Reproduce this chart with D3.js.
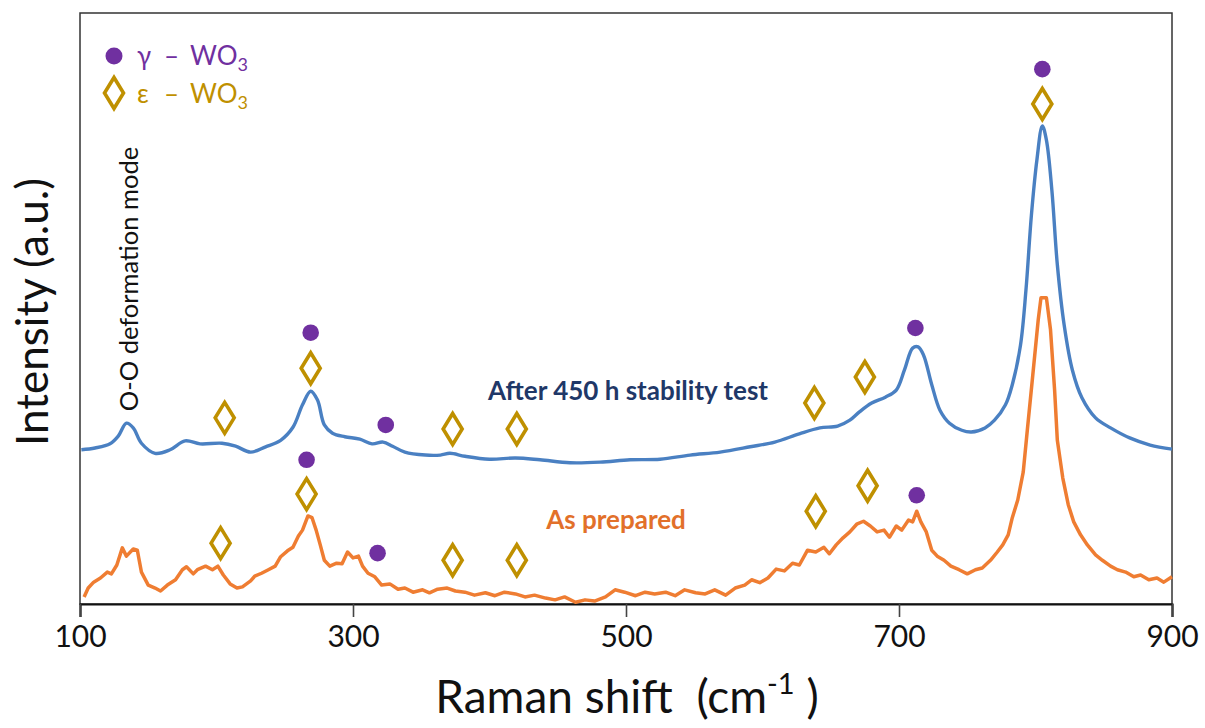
<!DOCTYPE html>
<html>
<head>
<meta charset="utf-8">
<script src="https://cdn.jsdelivr.net/npm/d3@7"></script>
<style>
  html, body { margin: 0; padding: 0; background: #fff; }
  svg { display: block; font-family: Lato, "Open Sans", sans-serif; }
</style>
</head>
<body>
<svg id="chart" width="1205" height="728"></svg>
<script>
// ---------------- data ----------------
const xTicks = [100, 300, 500, 700, 900];

// "After 450 h stability test" spectrum (Raman shift cm-1, intensity a.u.)
const afterShift = [101,111,122,128,134,139,145,155,166,177,188,204,214,225,236,247,256,263,269,274,279,285,294,305,314,322,329,338,353,364,371,382,400,419,437,459,481,503,525,547,569,591,609,627,642,655,664,671,680,690,698,704,710,714,718,724,730,737,746,753,763,770,778,783,789,793,797,801,805,808,812,816,821,827,834,844,855,869,884,900];
const afterIntensity = [26.1,26.4,27.1,28.4,30.6,29.8,27.2,25.5,26.1,27.6,27.1,27.2,26.7,25.7,26.6,27.7,29.9,33.7,36.0,34.5,30.3,28.9,28.3,27.9,27.1,27.4,26.7,25.7,25.2,25.2,25.5,25.0,24.5,24.7,24.4,23.9,24.0,24.4,24.5,25.2,25.7,26.6,27.4,28.8,29.8,30.1,31.1,32.5,34.0,35.0,36.2,39.6,43.3,43.5,42.1,37.1,32.8,30.6,29.4,29.1,29.8,31.1,33.7,37.1,43.8,53.1,65.8,75.1,80.9,78.5,70.0,57.4,47.2,39.6,34.9,31.5,29.8,28.1,26.9,26.2];

// "As prepared" spectrum
const asShift = [103,106,110,115,120,123,127,131,134,139,142,145,150,155,159,164,170,175,178,183,186,192,197,201,205,210,215,219,225,228,233,238,243,247,252,256,260,263,267,270,273,276,279,283,288,292,296,300,304,307,311,316,321,327,333,338,344,351,356,362,369,375,382,389,397,404,411,419,426,433,441,448,455,463,470,477,485,492,499,507,514,521,529,536,543,551,558,565,573,580,587,592,598,604,610,616,622,627,633,639,645,649,654,659,664,669,674,679,684,689,693,698,702,707,710,713,716,720,724,728,733,738,744,750,756,761,767,772,776,780,783,787,791,794,798,802,804,808,811,814,816,820,824,828,833,838,844,849,855,860,866,872,877,883,889,894,900];
const asIntensity = [1.2,2.7,3.7,4.4,5.4,5.1,6.6,9.5,8.1,9.3,9.1,5.4,3.2,2.7,2.2,3.2,4.1,5.8,6.3,5.1,5.8,6.4,5.8,6.4,4.9,3.4,2.7,2.9,3.9,4.7,5.2,5.8,6.4,8.0,9.0,9.6,11.5,12.5,14.9,14.6,12.5,10.0,7.4,6.4,6.9,6.8,8.8,7.8,8.1,6.4,5.2,4.6,3.2,3.4,2.5,2.7,2.0,2.4,1.9,2.5,2.7,2.2,2.0,1.5,1.9,1.4,2.0,1.7,1.2,1.5,1.0,0.7,1.2,0.3,0.7,0.5,1.2,2.4,2.0,1.4,2.0,1.7,2.0,1.4,2.4,1.9,1.7,2.4,1.5,2.7,3.2,4.1,3.6,4.4,5.9,5.6,6.9,6.6,9.1,8.8,9.6,8.5,10.0,11.2,12.2,13.5,14.0,13.2,12.2,12.5,11.3,13.2,12.5,14.2,13.9,15.7,13.9,12.2,9.1,8.1,7.4,6.4,5.8,5.1,5.8,6.1,7.4,8.8,10.0,11.7,14.6,17.6,22.3,29.4,38.7,48.1,51.8,51.8,46.4,36.2,27.7,21.3,16.8,13.9,11.7,10.0,8.3,7.4,6.4,5.8,5.4,4.6,4.9,4.1,4.4,3.7,4.6];

// phase markers: Raman shift and the intensity level where the marker sits
const gammaShift = [269, 324, 712, 805, 266, 318, 713];
const gammaLevel = [45.9, 30.3, 46.7, 90.5, 24.4, 8.6, 18.4];
const epsShift = [206, 269, 373, 420, 638, 675, 805, 203, 266, 373, 420, 639, 677];
const epsLevel = [31.5, 39.9, 29.6, 29.6, 34.0, 38.4, 84.6, 10.3, 18.6, 7.4, 7.4, 15.7, 20.0];

// ---------------- chart ----------------
const plot = { left: 80, right: 1172, top: 13, bottom: 604 };
const svg = d3.select("#chart");

const x = d3.scaleLinear().domain([100, 900]).range([plot.left, plot.right]);
const y = d3.scaleLinear().domain([0, 100]).range([plot.bottom, plot.top]);

const C = {
  blue: "#4a80c2", orange: "#ef7d32", purple: "#7030a0", gold: "#bf9000",
  navy: "#1f3868", orangeText: "#e2702a"
};

// frame
svg.append("rect")
  .attr("x", plot.left).attr("y", plot.top)
  .attr("width", plot.right - plot.left).attr("height", plot.bottom - plot.top)
  .attr("fill", "none").attr("stroke", "#333").attr("stroke-width", 1.5);

// x axis
const xAxis = svg.append("g")
  .attr("transform", `translate(0,${plot.bottom})`)
  .call(d3.axisBottom(x).tickValues(xTicks).tickSize(13).tickPadding(9).tickFormat(d3.format("d")));
xAxis.select(".domain").attr("stroke", "#111").attr("stroke-width", 2.2);
xAxis.selectAll(".tick line").attr("stroke", "#444").attr("stroke-width", 1.6);
xAxis.selectAll(".tick text")
  .attr("font-family", "Lato, sans-serif").attr("font-size", 30).attr("fill", "#111");

// spectra
const lineSmooth = d3.line().x(d => x(d[0])).y(d => y(d[1])).curve(d3.curveCatmullRom.alpha(0.5));
const lineRaw = d3.line().x(d => x(d[0])).y(d => y(d[1]));

svg.append("path")
  .datum(afterShift.map((s, i) => [s, afterIntensity[i]]))
  .attr("d", lineSmooth).attr("fill", "none")
  .attr("stroke", C.blue).attr("stroke-width", 3.4).attr("stroke-linejoin", "round");

svg.append("path")
  .datum(asShift.map((s, i) => [s, asIntensity[i]]))
  .attr("d", lineRaw).attr("fill", "none")
  .attr("stroke", C.orange).attr("stroke-width", 3.5).attr("stroke-linejoin", "round");

// markers
const diamondPath = (w, h) => `M0,${-h/2}L${w/2},0L0,${h/2}L${-w/2},0Z`;

svg.append("g").selectAll("circle")
  .data(gammaShift.map((s, i) => [s, gammaLevel[i]]))
  .join("circle")
  .attr("cx", d => x(d[0])).attr("cy", d => y(d[1])).attr("r", 8.3)
  .attr("fill", C.purple);

svg.append("g").selectAll("path")
  .data(epsShift.map((s, i) => [s, epsLevel[i]]))
  .join("path")
  .attr("transform", d => `translate(${x(d[0])},${y(d[1])})`)
  .attr("d", diamondPath(19, 31))
  .attr("fill", "none").attr("stroke", C.gold).attr("stroke-width", 3.6)
  .attr("stroke-linejoin", "miter");

// legend
const legend = svg.append("g");
legend.append("circle").attr("cx", 114).attr("cy", 56).attr("r", 8.5).attr("fill", C.purple);
legend.append("path").attr("transform", "translate(114,93)").attr("d", diamondPath(19, 31))
  .attr("fill", "none").attr("stroke", C.gold).attr("stroke-width", 3.6);

function legendText(yBase, sym, color) {
  const t = legend.append("text").attr("x", 137).attr("y", yBase)
    .attr("font-family", "Lato, sans-serif").attr("font-size", 26).attr("fill", color);
  t.append("tspan").text(sym);
  t.append("tspan").attr("x", 164).text("–");
  t.append("tspan").attr("x", 190).text("WO");
  t.append("tspan").attr("dy", 6).attr("font-size", 18).text("3");
}
legendText(65, "γ", C.purple);
legendText(103, "ε", C.gold);

// axis titles
svg.append("text")
  .attr("transform", "translate(48,312) rotate(-90)")
  .attr("text-anchor", "middle")
  .attr("font-family", "Lato, sans-serif").attr("font-size", 44).attr("fill", "#111")
  .text("Intensity (a.u.)");

const xt = svg.append("text")
  .attr("x", 627).attr("y", 713).attr("text-anchor", "middle")
  .attr("font-family", "Lato, sans-serif").attr("font-size", 46).attr("fill", "#111");
xt.append("tspan").text("Raman shift\u00a0\u00a0(cm");
xt.append("tspan").attr("dy", -19).attr("font-size", 29).text("-1");
xt.append("tspan").attr("dy", 19).text("\u00a0)");

// annotations
svg.append("text")
  .attr("transform", "translate(138,279) rotate(-90)")
  .attr("text-anchor", "middle")
  .attr("font-family", "Lato, sans-serif").attr("font-size", 25.5).attr("fill", "#111")
  .text("O-O deformation mode");

svg.append("text")
  .attr("x", 628).attr("y", 400).attr("text-anchor", "middle")
  .attr("font-family", "Lato, sans-serif").attr("font-weight", "bold").attr("font-size", 26)
  .attr("fill", C.navy)
  .text("After 450 h stability test");

svg.append("text")
  .attr("x", 616).attr("y", 529).attr("text-anchor", "middle")
  .attr("font-family", "Lato, sans-serif").attr("font-weight", "bold").attr("font-size", 26)
  .attr("fill", C.orangeText)
  .text("As prepared");
</script>
</body>
</html>
